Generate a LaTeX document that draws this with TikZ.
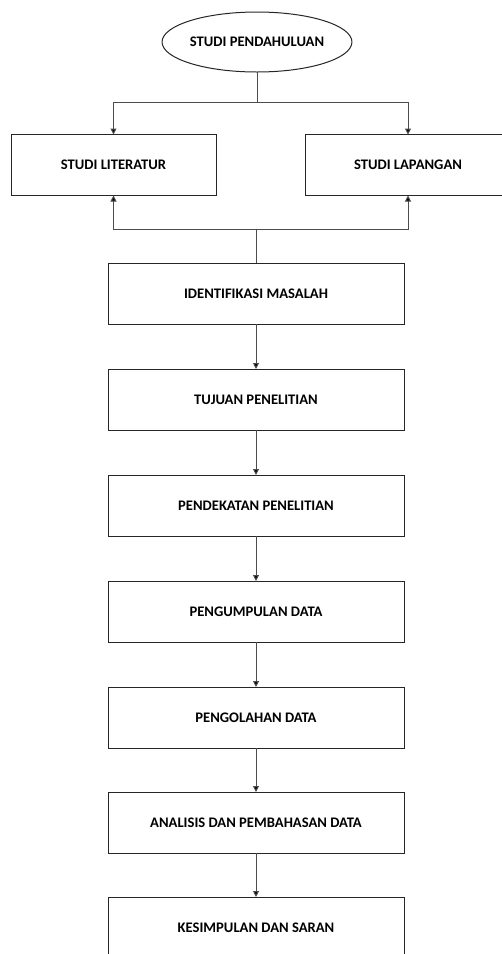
\documentclass[tikz,border=0pt]{standalone}
\usepackage{fontspec}
\setmainfont{Carlito}
\usetikzlibrary{shapes.geometric,arrows.meta}
\begin{document}
\begin{tikzpicture}[x=1pt,y=-1pt,
  lbl/.style={font=\fontsize{14.6}{17}\selectfont\bfseries},
  box/.style={draw=black!85,line width=1pt,rectangle,inner sep=0pt,outer sep=0pt,
    minimum height=61pt,lbl},
  flowbox/.style={box,minimum width=296pt},
  conn/.style={draw=black!70,line width=1pt},
  arr/.style={conn,-{Triangle[length=6pt,width=6pt,fill=black]}}]
\useasboundingbox (0,0) rectangle (502,954);
\node[ellipse,draw=black!85,line width=1pt,minimum width=184pt,minimum height=60pt,inner sep=0pt,outer sep=0pt,lbl] (sp) at (257,42) {STUDI PENDAHULUAN};
\node[box,minimum width=205pt] (lit) at (113.5,165) {STUDI LITERATUR};
\node[box,minimum width=206pt] (lap) at (408,165) {STUDI LAPANGAN};
\node[flowbox] (id) at (256,293.5) {IDENTIFIKASI MASALAH};
\node[flowbox] (tj) at (256,399.5) {TUJUAN PENELITIAN};
\node[flowbox] (pd) at (256,505.5) {PENDEKATAN PENELITIAN};
\node[flowbox] (pg) at (256,611.5) {PENGUMPULAN DATA};
\node[flowbox] (po) at (256,717.5) {PENGOLAHAN DATA};
\node[flowbox] (an) at (256,822.5) {ANALISIS DAN PEMBAHASAN DATA};
\node[flowbox] (ks) at (256,927.5) {KESIMPULAN DAN SARAN};
\coordinate (j1) at (257,102);
\coordinate (j2) at (256,229);
\draw[conn] (sp.south) -- (j1);
\draw[arr] (j1) -| (lit.north);
\draw[arr] (j1) -| (lap.north);
\draw[conn] (id.north) -- (j2);
\draw[arr] (j2) -| (lit.south);
\draw[arr] (j2) -| (lap.south);
\draw[arr] (id) -- (tj);
\draw[arr] (tj) -- (pd);
\draw[arr] (pd) -- (pg);
\draw[arr] (pg) -- (po);
\draw[arr] (po) -- (an);
\draw[arr] (an) -- (ks);
\end{tikzpicture}
\end{document}
